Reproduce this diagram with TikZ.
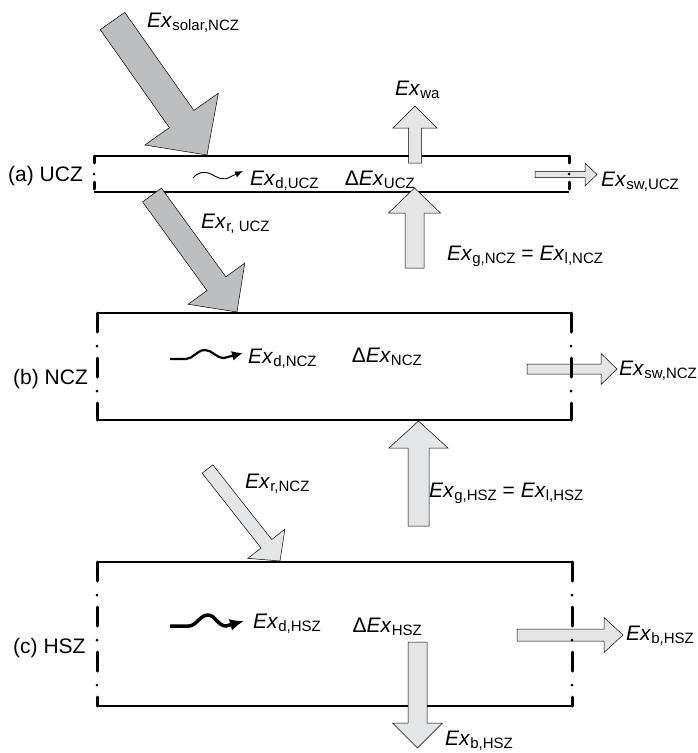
\documentclass[tikz,border=0pt]{standalone}
\usepackage{fontspec}
\setmainfont{Liberation Sans}
\usetikzlibrary{arrows.meta, calc}

\definecolor{solargray}{RGB}{188,190,192}
\definecolor{flowgray}{RGB}{228,229,230}

\newcommand{\exsub}[1]{\textit{Ex}\raisebox{-3pt}{\fontsize{15pt}{15pt}\selectfont #1}}
% block arrow: tail, tip, shaft half width, head half width, head length, fill
\newcommand{\blockarrow}[6]{%
  \coordinate (ba-h) at ($(#2)!#5!(#1)$);
  \filldraw[fill=#6, draw=black, line width=0.5pt, line join=miter]
    ($(#1)!#3!90:(#2)$) -- ($(ba-h)!#3!90:(#2)$) -- ($(ba-h)!#4!90:(#2)$) -- (#2)
    -- ($(ba-h)!#4!-90:(#2)$) -- ($(ba-h)!#3!-90:(#2)$) -- ($(#1)!#3!-90:(#2)$) -- cycle;
}

\begin{document}
\begin{tikzpicture}[x=1pt, y=-1pt, >=Latex,
    lbl/.style={inner sep=0pt, font=\fontsize{21pt}{24pt}\selectfont},
    zoneline/.style={line width=1.8pt},
    sideline/.style={line width=3pt, line cap=round, dash pattern=on 19pt off 14pt on 0pt off 12pt},
    thinside/.style={line width=3pt, line cap=round, dash pattern=on 7pt off 11pt on 0pt off 8pt}]
  \useasboundingbox (0,0) rectangle (698,753);

  % === ZONES (top and bottom lines) ===
  \coordinate (ucz-nw) at (94,156);  \coordinate (ucz-ne) at (569,156);
  \coordinate (ucz-sw) at (94,192);  \coordinate (ucz-se) at (569,192);
  \coordinate (ncz-nw) at (97,313);  \coordinate (ncz-ne) at (571,313);
  \coordinate (ncz-sw) at (97,420);  \coordinate (ncz-se) at (571,420);
  \coordinate (hsz-nw) at (97,562);  \coordinate (hsz-ne) at (572,562);
  \coordinate (hsz-sw) at (97,706);  \coordinate (hsz-se) at (572,706);
  \foreach \z in {ucz, ncz, hsz} {
    \draw[zoneline] (\z-nw) -- (\z-ne);
    \draw[zoneline] (\z-sw) -- (\z-se);
  }

  % === BLOCK ARROWS ===
  % solar and reflected flows
  \coordinate (solar-tail) at (112.5,21);  \coordinate (solar-tip) at (207,155);
  \blockarrow{solar-tail}{solar-tip}{15pt}{45pt}{44pt}{solargray}
  \coordinate (ru-tail) at (152,195);  \coordinate (ru-tip) at (237,312);
  \blockarrow{ru-tail}{ru-tip}{11.7pt}{35pt}{35pt}{solargray}
  \coordinate (rn-tail) at (207.5,469);  \coordinate (rn-tip) at (280,561);
  \blockarrow{rn-tail}{rn-tip}{6.8pt}{23.6pt}{22pt}{flowgray}

  % vertical flows
  \coordinate (wa-tail) at (415,163);  \coordinate (wa-tip) at (415,106);
  \blockarrow{wa-tail}{wa-tip}{6.5pt}{22pt}{22pt}{flowgray}
  \coordinate (gn-tail) at (414.5,268);  \coordinate (gn-tip) at (414.5,188);
  \blockarrow{gn-tail}{gn-tip}{9.5pt}{26pt}{25pt}{flowgray}
  \coordinate (gh-tail) at (418.5,526);  \coordinate (gh-tip) at (418.5,421);
  \blockarrow{gh-tail}{gh-tip}{10.5pt}{29.5pt}{27pt}{flowgray}
  \coordinate (bd-tail) at (417.5,642);  \coordinate (bd-tip) at (417.5,748);
  \blockarrow{bd-tail}{bd-tip}{9.5pt}{25pt}{25pt}{flowgray}

  % side flows
  \coordinate (swu-tail) at (535,174.5);  \coordinate (swu-tip) at (597,174.5);
  \blockarrow{swu-tail}{swu-tip}{3pt}{11.5pt}{12pt}{flowgray}
  \coordinate (swn-tail) at (527,369);  \coordinate (swn-tip) at (617,369);
  \blockarrow{swn-tail}{swn-tip}{5pt}{15.5pt}{16pt}{flowgray}
  \coordinate (bh-tail) at (517,635);  \coordinate (bh-tip) at (623,635);
  \blockarrow{bh-tail}{bh-tip}{6pt}{17.5pt}{19pt}{flowgray}

  % === ZONE SIDES (dash-dot) ===
  \draw[thinside] (ucz-nw) -- (ucz-sw);
  \draw[thinside] (ucz-ne) -- (ucz-se);
  \foreach \z in {ncz, hsz} {
    \draw[sideline] (\z-nw) -- (\z-sw);
    \draw[sideline] (\z-ne) -- (\z-se);
  }

  % diffusion curls
  \draw[line width=0.9pt, -{Latex[length=8pt,width=6.5pt]}]
    (193,178) .. controls (198,172) and (204,171) .. (211,174)
    .. controls (218,178) and (223,181) .. (230,177) -- (243,171);
  \draw[line width=2.2pt, -{Latex[length=11pt,width=10pt]}]
    (170,359) -- (186,359) .. controls (193,359) and (197,350) .. (205,350)
    .. controls (212,350) and (216,358) .. (224,358) -- (243,353);
  \draw[line width=3.5pt, -{Latex[length=14pt,width=12pt]}]
    (170,626) -- (189,626) .. controls (196,626) and (200,615) .. (208,615)
    .. controls (215,615) and (218,626) .. (226,626) -- (244,621);

  % === LABELS ===
  \node[lbl, anchor=base west] (ucz-name) at (8,181) {(a) UCZ};
  \node[lbl, anchor=base west] (ncz-name) at (13,384) {(b) NCZ};
  \node[lbl, anchor=base west] (hsz-name) at (13,653) {(c) HSZ};

  \node[lbl, anchor=base west] (solar-lbl) at (147,27) {\exsub{solar,NCZ}};
  \node[lbl, anchor=base west] (wa-lbl) at (395,95) {\exsub{wa}};
  \node[lbl, anchor=base west] (du-lbl) at (250,185) {\exsub{d,UCZ}};
  \node[lbl, anchor=base east] (delu-lbl) at (415,185) {Δ\exsub{UCZ}};
  \node[lbl, anchor=base west] (swu-lbl) at (601,186) {\exsub{sw,UCZ}};
  \node[lbl, anchor=base west] (ru-lbl) at (201,228) {\exsub{r, UCZ}};
  \node[lbl, anchor=base west] (gn-lbl) at (447,260) {\exsub{g,NCZ} = \exsub{l,NCZ}};

  \node[lbl, anchor=base west] (dn-lbl) at (248,363) {\exsub{d,NCZ}};
  \node[lbl, anchor=base east] (deln-lbl) at (422,362) {Δ\exsub{NCZ}};
  \node[lbl, anchor=base west] (swn-lbl) at (619,375) {\exsub{sw,NCZ}};
  \node[lbl, anchor=base west] (rn-lbl) at (245,488) {\exsub{r,NCZ}};
  \node[lbl, anchor=base west] (gh-lbl) at (429,497) {\exsub{g,HSZ} = \exsub{l,HSZ}};

  \node[lbl, anchor=base west] (dh-lbl) at (253,628) {\exsub{d,HSZ}};
  \node[lbl, anchor=base east] (delh-lbl) at (422,632) {Δ\exsub{HSZ}};
  \node[lbl, anchor=base west] (bh-lbl) at (626,640) {\exsub{b,HSZ}};
  \node[lbl, anchor=base west] (bd-lbl) at (445,745) {\exsub{b,HSZ}};
\end{tikzpicture}
\end{document}
